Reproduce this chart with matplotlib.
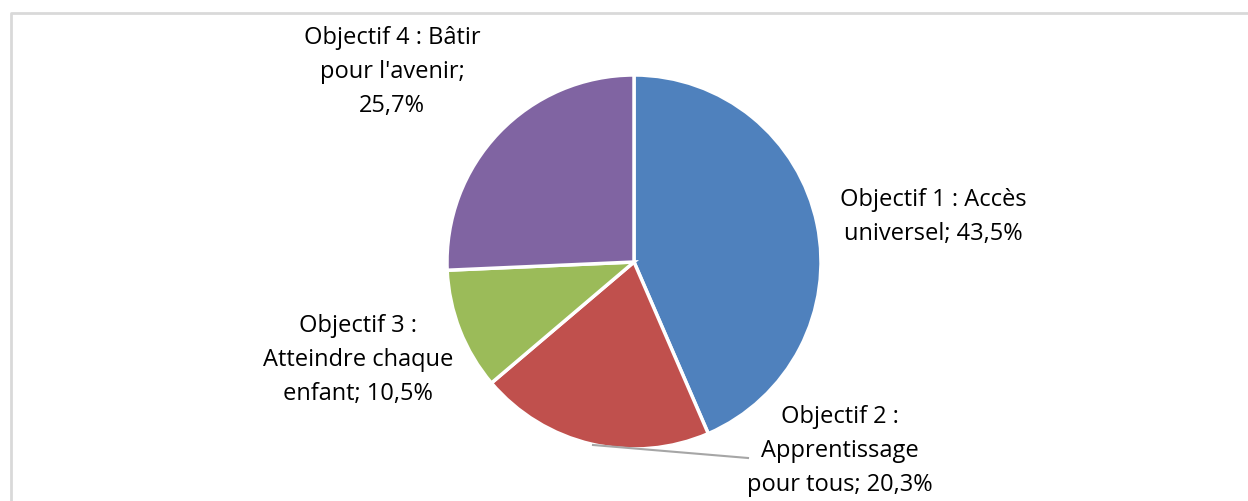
import matplotlib
matplotlib.use("Agg")
import matplotlib.pyplot as plt

# Data
labels = ["Objectif 1 : Accès\nuniversel; 43,5%",
          "Objectif 2 :\nApprentissage\npour tous; 20,3%",
          "Objectif 3 :\nAtteindre chaque\nenfant; 10,5%",
          "Objectif 4 : Bâtir\npour l'avenir;\n25,7%"]
shares = [43.5, 20.3, 10.5, 25.7]
colors = ["#4f81bd", "#c0504d", "#9bbb59", "#8064a2"]
label_pos = [(933, 284), (840, 50), (358, 141), (392, 429)]

plt.rcParams['font.family'] = ['Open Sans', 'DejaVu Sans']

W, H = 1248, 501
fig = plt.figure(figsize=(W / 100, H / 100), dpi=100)
ax = fig.add_axes([0, 0, 1, 1])
ax.axis('off')

# chart border (only top and left are visible)
ax.plot([11, 11, W + 5], [-5, H - 13, H - 13], color="#d9d9d9", lw=2, solid_capstyle='butt')

ax.pie(shares, colors=colors, startangle=90, counterclock=False,
       center=(634, 239), radius=187,
       wedgeprops=dict(edgecolor="white", linewidth=2.5))
ax.set_xlim(0, W)
ax.set_ylim(0, H)
ax.set_aspect('auto')

# leader line for objectif 2
ax.plot([593, 748], [H - 445, H - 458], color="#a6a6a6", lw=1.5)

for txt, (x, y) in zip(labels, label_pos):
    ax.text(x, y, txt, ha='center', va='center', fontsize=17,
            linespacing=1.55, color="#000000")

plt.savefig("out.png", dpi=100)
plt.close()
